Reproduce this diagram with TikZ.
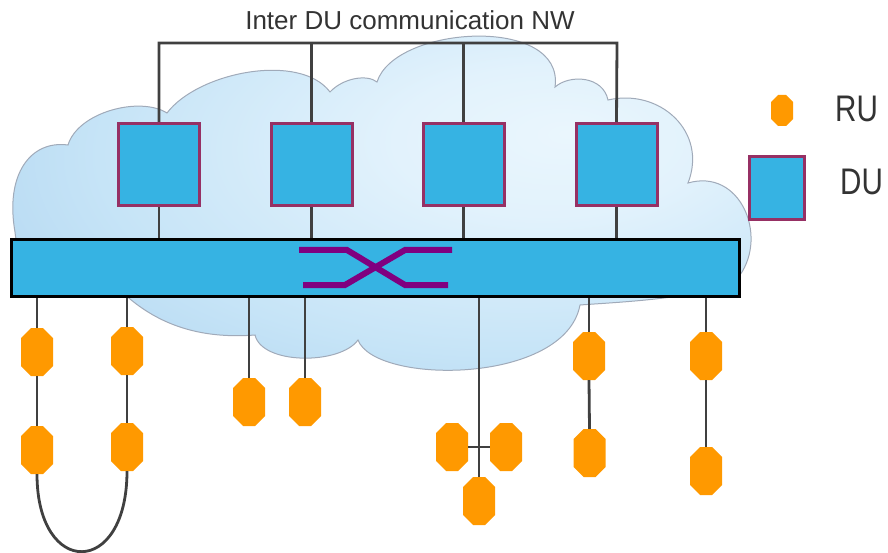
\documentclass[tikz,border=0pt]{standalone}
\usepackage{fontspec}
\setmainfont{Liberation Sans}
\usetikzlibrary{calc}
\definecolor{dublue}{RGB}{54,179,227}
\definecolor{duborder}{RGB}{150,48,100}
\definecolor{swpurple}{RGB}{128,0,128}
\definecolor{ruorange}{RGB}{255,153,0}
\definecolor{linkgray}{RGB}{64,64,64}
\definecolor{txtgray}{RGB}{51,51,51}
\definecolor{cloudA}{RGB}{234,246,253}
\definecolor{cloudB}{RGB}{226,242,252}
\definecolor{cloudC}{RGB}{198,228,247}
\definecolor{cloudD}{RGB}{172,210,238}
\definecolor{cloudE}{RGB}{166,196,231}
\definecolor{cloudF}{RGB}{166,186,225}
\definecolor{cloudLine}{RGB}{160,170,185}
\pgfdeclareradialshading{cloudshade}{\pgfpoint{12bp}{9bp}}{color(0bp)=(cloudA); color(10bp)=(cloudB); color(27bp)=(cloudC); color(42bp)=(cloudD); color(55bp)=(cloudE); color(85bp)=(cloudF)}
\tikzset{
  ru cut/.store in=\rucut, ru cut=10pt,
  du/.style={rectangle, draw=duborder, fill=dublue, line width=3pt, minimum width=81pt, minimum height=82pt, inner sep=0pt},
  busbar/.style={rectangle, draw=black, fill=dublue, line width=3pt, minimum width=728pt, minimum height=57pt, inner sep=0pt},
  ru/.style={rectangle, inner sep=0pt, minimum width=32pt, minimum height=48pt,
    path picture={\fill[ruorange] let \p1=(path picture bounding box.south west), \p2=(path picture bounding box.north east) in
      (\x1+\rucut,\y1) -- (\x2-\rucut,\y1) -- (\x2,\y1+\rucut) -- (\x2,\y2-\rucut) -- (\x2-\rucut,\y2) -- (\x1+\rucut,\y2) -- (\x1,\y2-\rucut) -- (\x1,\y1+\rucut) -- cycle;}},
  link/.style={draw=linkgray, line width=2.8pt},
  switchline/.style={draw=swpurple, line width=6pt, miter limit=4},
  cloud/.style={shading=cloudshade, draw=cloudLine, line width=1pt},
  lbl/.style={text=txtgray, inner sep=0pt}
}
\begin{document}
\begin{tikzpicture}[x=1pt,y=-1pt]
\useasboundingbox (0,0) rectangle (888,553);
% cloud
\path[cloud] (15,232) .. controls (5,175) and (30,140) .. (68,145)
 .. controls (78,112) and (140,96) .. (167,113)
 .. controls (198,72) and (300,52) .. (330,92)
 .. controls (343,78) and (367,74) .. (377,82)
 .. controls (395,25) and (565,15) .. (555,87)
 .. controls (570,74) and (603,76) .. (608,100)
 .. controls (660,88) and (708,132) .. (688,183)
 .. controls (740,168) and (768,235) .. (740,275)
 .. controls (720,298) and (620,302) .. (580,305)
 .. controls (565,385) and (375,385) .. (358,340)
 .. controls (340,365) and (262,365) .. (255,335)
 .. controls (190,340) and (150,318) .. (122,292)
 .. controls (60,290) and (18,270) .. cycle;
% title
\node[lbl, anchor=base, font=\fontsize{26}{30}\selectfont] (title) at (410,30) {Inter DU communication NW};
% DU boxes
\node[du] (du1) at (159,164.5) {};
\node[du] (du2) at (311.5,164.5) {};
\node[du] (du3) at (463.5,164.5) {};
\node[du] (du4) at (616.5,164.5) {};
% bus bar
\node[busbar] (bar) at (375.5,268) {};
% inter-DU network
\coordinate (busL) at (159,43);
\coordinate (busR) at (617,43);
\draw[link] (du1.north) -- (busL) -- (busR) -- (du4.north);
\draw[link] (du2.north) -- (du2.north |- busL);
\draw[link] (du3.north) -- (du3.north |- busL);
% DU to bar
\draw[link] (du1.south) -- (du1.south |- bar.north);
\draw[link] (du2.south) -- (du2.south |- bar.north);
\draw[link] (du3.south) -- (du3.south |- bar.north);
\draw[link] (du4.south) -- (du4.south |- bar.north);
% switch symbol
\draw[switchline] (299,250) -- (347,250) -- (405,285) -- (448,285);
\draw[switchline] (303,285) -- (345,285) -- (405,250) -- (452,250);
% RUs
\node[ru] (ru1a) at (37,352) {};
\node[ru] (ru1b) at (37,450) {};
\node[ru] (ru2a) at (127,351) {};
\node[ru] (ru2b) at (127,447) {};
\node[ru] (ru3) at (249,402) {};
\node[ru] (ru4) at (305,402) {};
\node[ru] (ru5a) at (452,447) {};
\node[ru] (ru5b) at (506,447) {};
\node[ru] (ru5c) at (479,501) {};
\node[ru] (ru6a) at (589,356) {};
\node[ru] (ru6b) at (589.5,453) {};
\node[ru] (ru7a) at (706,356) {};
\node[ru] (ru7b) at (706,471) {};
% RU links
\draw[link] (bar.south -| ru1a.north) -- (ru1a.north);
\draw[link] (ru1a.south) -- (ru1b.north);
\draw[link] (bar.south -| ru2a.north) -- (ru2a.north);
\draw[link] (ru2a.south) -- (ru2b.north);
\draw[link] (ru1b.south) .. controls (37,578) and (127,578) .. (ru2b.south);
\draw[link] (bar.south -| ru3.north) -- (ru3.north);
\draw[link] (bar.south -| ru4.north) -- (ru4.north);
\draw[link] (bar.south -| ru5c.north) -- (ru5c.north);
\draw[link] (ru5a.east) -- (ru5b.west);
\draw[link] (bar.south -| ru6a.north) -- (ru6a.north);
\draw[link] (ru6a.south) -- (ru6b.north);
\draw[link] (bar.south -| ru7a.north) -- (ru7a.north);
\draw[link] (ru7a.south) -- (ru7b.north);
% legend
\node[ru, ru cut=7pt, minimum width=22pt, minimum height=31pt] (legru) at (782,110.5) {};
\node[du, minimum width=55pt, minimum height=63pt] (legdu) at (777,188) {};
\node[lbl, anchor=base west] (rutxt) at (835,122) {\scalebox{0.8}[1]{\fontsize{37}{40}\selectfont RU}};
\node[lbl, anchor=base west] (dutxt) at (840,195) {\scalebox{0.8}[1]{\fontsize{37}{40}\selectfont DU}};
\end{tikzpicture}
\end{document}
